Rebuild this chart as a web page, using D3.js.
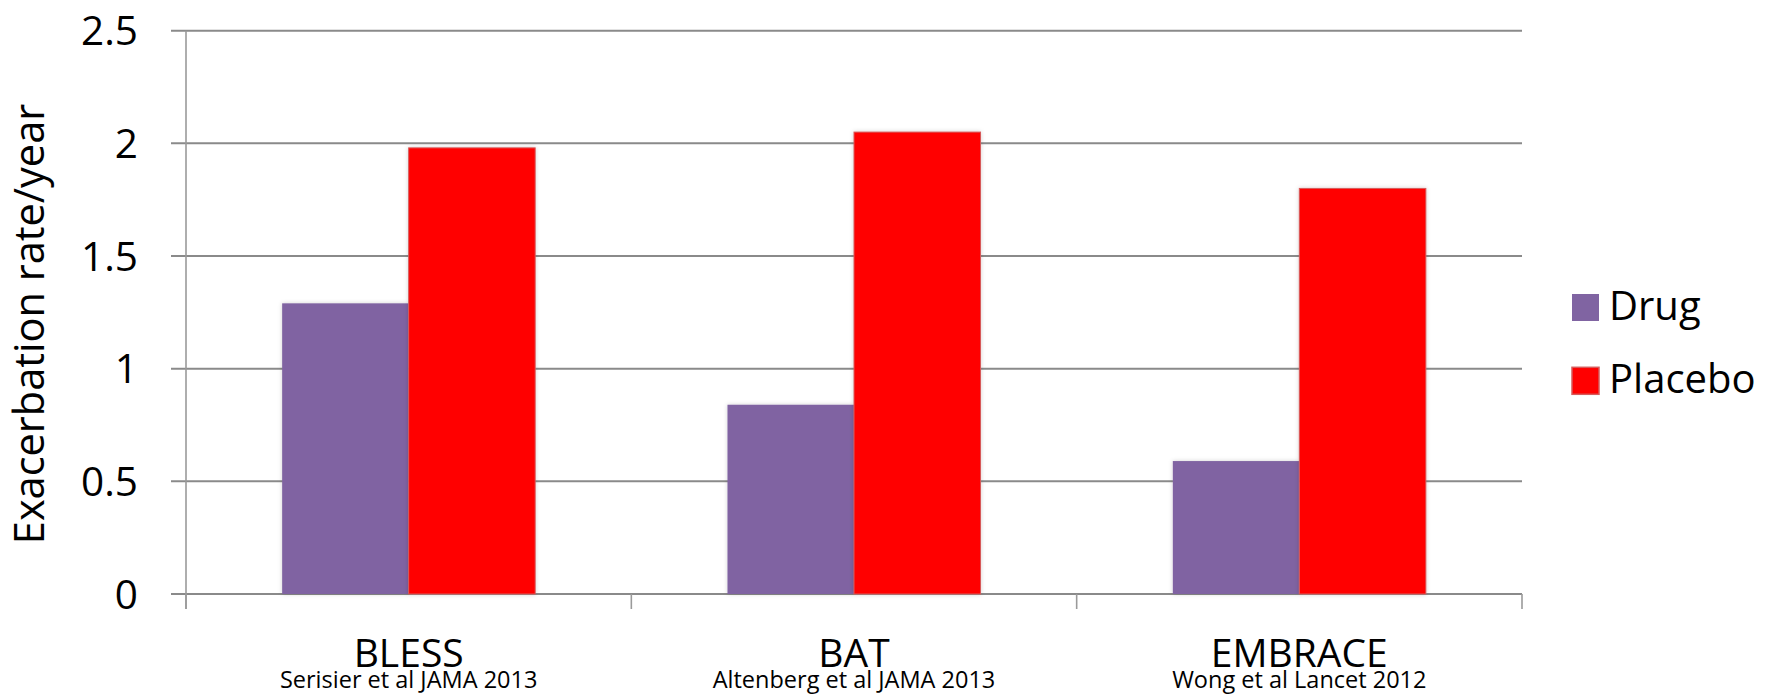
<!DOCTYPE html>
<html>
<head>
<meta charset="utf-8">
<script src="https://cdn.jsdelivr.net/npm/d3@7"></script>
<style>
  html, body { margin: 0; padding: 0; background: #ffffff; }
  svg { display: block; font-family: "Open Sans", "Noto Sans", sans-serif; }
</style>
</head>
<body>
<svg id="chart" width="1768" height="697"></svg>
<script>
// Trial names, citations and the two series (exacerbations per patient-year)
const trials = ["BLESS", "BAT", "EMBRACE"];
const citations = ["Serisier et al JAMA 2013", "Altenberg et al JAMA 2013", "Wong et al Lancet 2012"];
const seriesNames = ["Drug", "Placebo"];
const drugValues = [1.29, 0.84, 0.59];
const placeboValues = [1.98, 2.05, 1.80];
const yTicks = [0, 0.5, 1, 1.5, 2, 2.5];

const colors = { Drug: "#8064A2", Placebo: "#FF0000" };
const strokes = { Drug: "none", Placebo: "#d65a5a" };

const svg = d3.select("#chart");
const plot = { left: 186, right: 1522, top: 30.7, bottom: 594 };

const defs = svg.append("defs");
const shadow = defs.append("filter").attr("id", "barShadow")
  .attr("x", "-10%").attr("y", "-10%").attr("width", "120%").attr("height", "120%");
shadow.append("feDropShadow").attr("dx", 0).attr("dy", 0)
  .attr("stdDeviation", 2).attr("flood-color", "#000").attr("flood-opacity", 0.18);

const x = d3.scaleBand().domain(trials).range([plot.left, plot.right]).paddingInner(0).paddingOuter(0);
const xs = d3.scaleBand().domain(seriesNames).range([0, x.bandwidth()]).paddingInner(0).paddingOuter(0.76);
const y = d3.scaleLinear().domain([0, 2.5]).range([plot.bottom, plot.top]);

// Horizontal gridlines with short ticks left of the axis
const grid = svg.append("g");
grid.selectAll("line").data(yTicks).join("line")
  .attr("x1", plot.left - 15).attr("x2", plot.right)
  .attr("y1", d => y(d)).attr("y2", d => y(d))
  .attr("stroke", "#8a8a8a").attr("stroke-width", 2);

// Y axis labels
svg.append("g").selectAll("text").data(yTicks).join("text")
  .attr("x", 138).attr("y", d => y(d))
  .attr("dy", "0.36em")
  .attr("text-anchor", "end")
  .attr("font-size", 40.5)
  .attr("fill", "#000")
  .text(d => d3.format("")(d));

// Vertical axis line
svg.append("line")
  .attr("x1", plot.left).attr("x2", plot.left)
  .attr("y1", plot.top).attr("y2", plot.bottom + 15)
  .attr("stroke", "#9a9a9a").attr("stroke-width", 1.6);

// Category divider ticks below the baseline
const dividers = trials.map(t => x(t)).concat([plot.right]);
svg.append("g").selectAll("line").data(dividers).join("line")
  .attr("x1", d => d).attr("x2", d => d)
  .attr("y1", plot.bottom).attr("y2", plot.bottom + 15)
  .attr("stroke", "#9a9a9a").attr("stroke-width", 1.6);

// Bars
const rows = trials.map((t, i) => ({ trial: t, values: [
  { key: "Drug", value: drugValues[i] },
  { key: "Placebo", value: placeboValues[i] }
]}));

const groups = svg.append("g").selectAll("g").data(rows).join("g")
  .attr("transform", d => `translate(${x(d.trial)},0)`);

groups.selectAll("rect").data(d => d.values).join("rect")
  .attr("x", d => xs(d.key))
  .attr("width", xs.bandwidth())
  .attr("y", d => y(d.value))
  .attr("height", d => y(0) - y(d.value))
  .attr("fill", d => colors[d.key])
  .attr("stroke", d => strokes[d.key])
  .attr("stroke-width", 1)
  .attr("filter", "url(#barShadow)");

// Category labels with citations
const cats = svg.append("g").selectAll("g").data(trials).join("g");
cats.append("text")
  .attr("x", d => x(d) + x.bandwidth() / 2)
  .attr("y", 667)
  .attr("text-anchor", "middle")
  .attr("font-size", 39)
  .attr("fill", "#000")
  .text(d => d);
cats.append("text")
  .attr("x", d => x(d) + x.bandwidth() / 2)
  .attr("y", 688)
  .attr("text-anchor", "middle")
  .attr("font-size", 23.5)
  .attr("fill", "#000")
  .text((d, i) => citations[i]);

// Y axis title
svg.append("text")
  .attr("transform", "translate(44,324) rotate(-90)")
  .attr("text-anchor", "middle")
  .attr("font-size", 41.5)
  .attr("fill", "#000")
  .text("Exacerbation rate/year");

// Legend
const legend = svg.append("g").selectAll("g").data(seriesNames).join("g")
  .attr("transform", (d, i) => `translate(1572,${294 + i * 73.3})`);
legend.append("rect")
  .attr("width", 27).attr("height", 27)
  .attr("fill", d => colors[d])
  .attr("stroke", d => strokes[d])
  .attr("stroke-width", 1.5);
legend.append("text")
  .attr("x", 37).attr("y", 25.5)
  .attr("font-size", 40)
  .attr("fill", "#000")
  .text(d => d);
</script>
</body>
</html>
